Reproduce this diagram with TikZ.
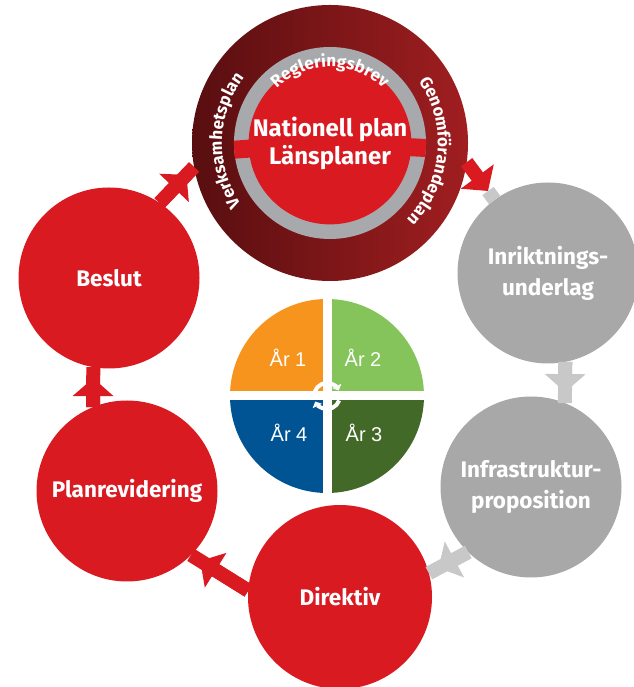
\documentclass[tikz,border=0pt]{standalone}
\usepackage{fontspec}
\setmainfont{Liberation Sans}
\newfontfamily\firasans{Fira Sans}
\usetikzlibrary{arrows.meta, decorations.text, shapes}
\definecolor{nodered}{RGB}{217,26,33}
\definecolor{ringdark}{RGB}{88,14,16}
\definecolor{ringlight}{RGB}{160,30,32}
\definecolor{ringgrey}{RGB}{167,169,172}
\definecolor{stagegrey}{RGB}{168,168,168}
\definecolor{arrowgrey}{RGB}{200,200,200}
\definecolor{yrorange}{RGB}{247,148,30}
\definecolor{yrlight}{RGB}{133,196,90}
\definecolor{yrdark}{RGB}{66,105,39}
\definecolor{yrblue}{RGB}{1,84,147}
\newcommand{\stagefont}{\firasans\bfseries\fontsize{22.5}{31}\selectfont}
\newcommand{\ringfont}{\firasans\bfseries\fontsize{17}{19}\selectfont}
\newcommand{\yearfont}{\fontsize{20}{22}\selectfont}

\begin{document}
\begin{tikzpicture}[x=1pt, y=1pt,
  stage/.style={circle, fill=#1, minimum size=181pt, inner sep=0pt, outer sep=0pt, text=white, align=center, font=\stagefont},
  flow/.style={line width=14pt, draw=#1, postaction={draw=#1, -{Triangle[width=40pt,length=18pt]}, shorten >=11pt}},
  year/.style={text=white, font=\yearfont},
  ringtext/.style={decorate, decoration={text along path, text align=center, text={|\ringfont\color{white}|#1}}}]
  \useasboundingbox (0,0) rectangle (633,687);

  % planning ring
  \node[circle, minimum size=276pt, inner sep=0pt, outer sep=0pt, left color=ringdark, right color=ringlight] (ring) at (330,544) {};
  \node[circle, fill=ringgrey, minimum size=192pt, inner sep=0pt, outer sep=0pt] (grey) at (ring.center) {};
  \draw[line width=18pt, nodered] (grey.center) -- (grey.184);
  \draw[line width=18pt, nodered] (grey.center) -- (grey.-3);
  \node[stage=nodered, minimum size=140pt, font=\firasans\bfseries\fontsize{24}{28}\selectfont] (natplan) at (ring.center) {Nationell plan\\Länsplaner};
  \path[ringtext=Regleringsbrev] (ring.center) ++(145:76) arc (145:35:76);
  \path[ringtext=Verksamhetsplan] (ring.center) ++(216:108) arc (216:141:108);
  \path[ringtext=Genomförandeplan] (ring.center) ++(36:108) arc (36:-46:108);

  % stages
  \node[stage=nodered] (beslut) at (109,409) {Beslut};
  \node[stage=nodered] (planrev) at (127,196) {Planrevidering};
  \node[stage=nodered, minimum size=184pt] (direktiv) at (340,90) {Direktiv};
  \node[stage=stagegrey] (infra) at (531,200) {Infrastruktur-\\proposition};
  \node[stage=stagegrey] (inrikt) at (548,414) {Inriktnings-\\underlag};

  % years
  \node[circle, minimum size=194pt, inner sep=0pt, outer sep=0pt] (years) at (327,291) {};
  \fill[yrorange] (years.center) -- (years.90) arc (90:180:97) -- cycle;
  \fill[yrlight] (years.center) -- (years.0) arc (0:90:97) -- cycle;
  \fill[yrdark] (years.center) -- (years.270) arc (270:360:97) -- cycle;
  \fill[yrblue] (years.center) -- (years.180) arc (180:270:97) -- cycle;
  \draw[white, line width=9pt] (years.north) -- (years.south);
  \draw[white, line width=9pt] (years.west) -- (years.east);
  \draw[white, line width=4pt, -{Triangle[width=10pt,length=5pt]}] (years.center) ++(160:13) arc (160:25:13);
  \draw[white, line width=4pt, -{Triangle[width=10pt,length=5pt]}] (years.center) ++(-20:13) arc (-20:-155:13);
  \node[year] (yr1) at (288,329) {År 1};
  \node[year] (yr2) at (363,329) {År 2};
  \node[year] (yr3) at (364,254) {År 3};
  \node[year] (yr4) at (289,254) {År 4};

  % cycle
  \coordinate (ritip) at (488,496);
  \draw[line width=14pt, arrowgrey] (ritip) -- (inrikt);
  \draw[line width=14pt, nodered, -{Triangle[width=40pt,length=18pt]}] (ring.-8) -- (ritip);
  \draw[flow=arrowgrey] (inrikt.281) -- (infra.68);
  \draw[flow=arrowgrey] (infra.226) -- (direktiv.15);
  \draw[flow=nodered] (direktiv.176) -- (planrev.-45);
  \draw[flow=nodered] (planrev.112) -- (beslut.260);
  \draw[flow=nodered] (beslut.56) -- (ring.190);
\end{tikzpicture}
\end{document}
